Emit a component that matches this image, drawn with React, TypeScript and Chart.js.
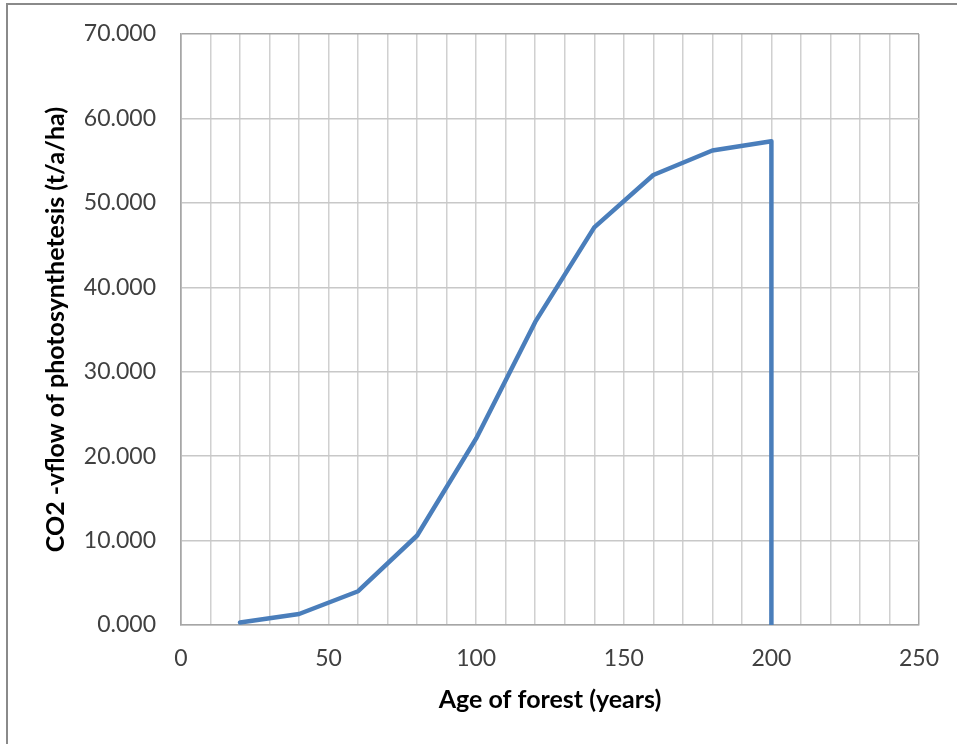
import React, { useEffect, useRef } from "react";
import { Chart, registerables } from "chart.js";

Chart.register(...registerables);

const ages = [20, 40, 60, 80, 100, 120, 140, 160, 180, 200, 200];
const co2Flow = [0.3, 1.3, 4.0, 10.6, 22.1, 35.9, 47.1, 53.3, 56.2, 57.3, 0];
const xTickLabels = [0, 50, 100, 150, 200, 250];
const yTickValues = [0, 10, 20, 30, 40, 50, 60, 70];

const FONT = "Lato, 'Open Sans', sans-serif";

export default function App() {
  const ref = useRef<HTMLCanvasElement | null>(null);
  useEffect(() => {
    if (!ref.current) return;
    const chart = new Chart(ref.current, {
      type: "scatter",
      data: {
        datasets: [
          {
            data: ages.map((a, i) => ({ x: a, y: co2Flow[i] })),
            showLine: true,
            borderColor: "#4a7ebb",
            backgroundColor: "#4a7ebb",
            borderWidth: 4.5,
            pointRadius: 0,
            tension: 0,
            borderCapStyle: "round",
            borderJoinStyle: "round",
          },
        ],
      },
      options: {
        animation: false,
        responsive: false,
        maintainAspectRatio: false,
        layout: { padding: { top: 34, right: 38, left: 0, bottom: 0 } },
        plugins: { legend: { display: false }, tooltip: { enabled: false } },
        scales: {
          x: {
            type: "linear",
            min: 0,
            max: 250,
            afterFit: (s: any) => {
              s.height = 119;
              s.paddingLeft = 0;
              s.paddingRight = 0;
            },
            ticks: {
              stepSize: 10,
              autoSkip: false,
              maxRotation: 0,
              padding: 20,
              color: "#404040",
              font: { family: FONT, size: 23 },
              callback: (v: any) => (xTickLabels.includes(Number(v)) ? String(v) : ""),
            },
            grid: {
              color: (ctx: any) =>
                ctx.tick && (ctx.tick.value === 0 || ctx.tick.value === 250) ? "#a6a6a6" : "#d0d0d0",
              lineWidth: 1.5,
              drawTicks: false,
            },
            border: { display: true, color: "#a6a6a6", width: 1.5 },
            title: {
              display: true,
              text: "Age of forest (years)",
              color: "#000000",
              font: { family: FONT, size: 25, weight: "bold" },
              padding: { top: 0, bottom: 29 },
            },
          },
          y: {
            type: "linear",
            min: 0,
            max: 70,
            afterFit: (s: any) => {
              s.width = 181;
              s.paddingTop = 0;
              s.paddingBottom = 0;
            },
            afterBuildTicks: (s: any) => {
              s.ticks = yTickValues.map((v) => ({ value: v }));
            },
            ticks: {
              padding: 25,
              color: "#404040",
              font: { family: FONT, size: 23 },
              callback: (v: any) => Number(v).toFixed(3),
            },
            grid: {
              color: (ctx: any) =>
                ctx.tick && ctx.tick.value === 70 ? "#a6a6a6" : "#c8c8c8",
              lineWidth: 1.5,
              drawTicks: false,
            },
            border: { display: true, color: "#a6a6a6", width: 1.5 },
            title: {
              display: true,
              text: "CO2 -vflow of photosynthetesis (t/a/ha)",
              color: "#000000",
              font: { family: FONT, size: 25, weight: "bold" },
              padding: { top: 41, bottom: 0 },
            },
          },
        },
      },
    });
    return () => chart.destroy();
  }, []);

  return (
    <div style={{ position: "fixed", left: 0, top: 0, width: 957, height: 744, background: "#ffffff" }}>
      <div
        style={{
          position: "absolute",
          left: 6,
          top: 3,
          width: 1000,
          height: 1000,
          borderLeft: "2px solid #8a8a8a",
          borderTop: "2px solid #8a8a8a",
        }}
      />
      <canvas ref={ref} width={957} height={744} style={{ position: "absolute", left: 0, top: 0 }} />
    </div>
  );
}
